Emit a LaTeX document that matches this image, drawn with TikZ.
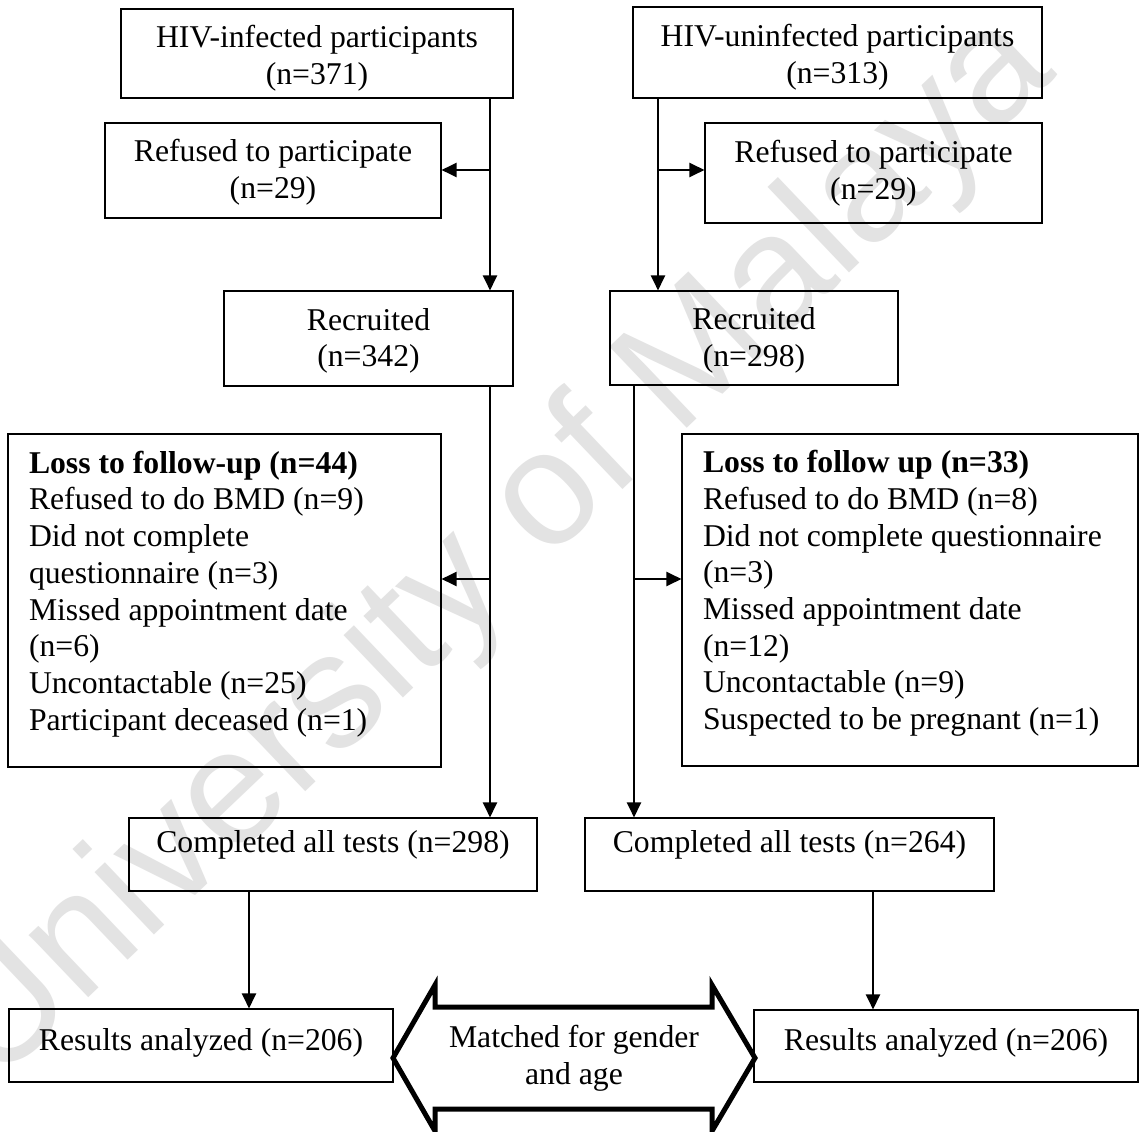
\documentclass[tikz,border=0pt]{standalone}
\usepackage{fontspec}
\setmainfont{Liberation Serif}
\newfontfamily\wmfont{Liberation Sans}
\usetikzlibrary{arrows.meta}
\begin{document}
\begin{tikzpicture}[x=1pt,y=-1pt,
  every node/.style={font=\fontsize{31.7}{36.7}\selectfont},
  box/.style={draw=black, line width=1.1pt, inner sep=0pt, align=center},
  lossbox/.style={draw=black, line width=1.1pt, inner ysep=0pt, inner xsep=21pt, align=flush left},
  conn/.style={line width=2.2pt, -{Triangle[length=15pt,width=14pt]}},
  bigarrow/.style={line width=5pt, line join=miter}]
\useasboundingbox (0,0) rectangle (1139,1131);
\fill[white] (0,0) rectangle (1139,1131);
% watermark
\node[rotate=43.6, text=black!11, inner sep=0pt, font=\wmfont\fontsize{163}{185}\selectfont] (wm) at (498,550) {University of Malaya};
% left column
\node[box, minimum width=392pt, minimum height=89pt] (inf) at (317,53.5) {\rule{0pt}{32pt}HIV-infected participants\\(n=371)};
\node[box, minimum width=336pt, minimum height=95pt] (refL) at (273,170.5) {\rule{0pt}{26pt}Refused to participate\\(n=29)};
\node[box, minimum width=289pt, minimum height=95pt] (recL) at (368.5,338.5) {\rule{0pt}{27pt}Recruited\\(n=342)};
\node[lossbox, text width=391pt, minimum height=333pt] (lossL) at (224.5,600.5) {\textbf{Loss to follow-up (n=44)}\\Refused to do BMD (n=9)\\Did not complete\\questionnaire (n=3)\\Missed appointment date\\(n=6)\\Uncontactable (n=25)\\Participant deceased (n=1)\rule[-20pt]{0pt}{20pt}};
\node[box, minimum width=408pt, text height=34pt, text depth=39pt] (compL) at (333,854.5) {Completed all tests (n=298)};
\node[box, minimum width=384pt, text height=41pt, text depth=32pt] (resL) at (201,1045.5) {Results analyzed (n=206)};
% right column
\node[box, minimum width=409pt, minimum height=91pt] (uninf) at (837.5,52.5) {\rule{0pt}{32pt}HIV-uninfected participants\\(n=313)};
\node[box, minimum width=337pt, minimum height=100pt] (refR) at (873.5,173) {Refused to participate\\(n=29)};
\node[box, minimum width=288pt, minimum height=94pt] (recR) at (754,338) {\rule{0pt}{27pt}Recruited\\(n=298)};
\node[lossbox, text width=414pt, minimum height=332pt] (lossR) at (910,600) {\textbf{Loss to follow up (n=33)}\\Refused to do BMD (n=8)\\Did not complete questionnaire\\(n=3)\\Missed appointment date\\(n=12)\\Uncontactable (n=9)\\Suspected to be pregnant (n=1)\rule[-20pt]{0pt}{20pt}};
\node[box, minimum width=409pt, text height=34pt, text depth=39pt] (compR) at (789.5,854.5) {Completed all tests (n=264)};
\node[box, minimum width=384pt, text height=40pt, text depth=32pt] (resR) at (946,1046) {Results analyzed (n=206)};
% matched double arrow
\node[inner sep=0pt, align=center] (match) at (574,1058) {Matched for gender\\and age};
\draw[bigarrow] (match.center) ++(-181,0) -- ++(42,-73) -- ++(0,22) -- ++(277,0) -- ++(0,-22) -- ++(43,73) -- ++(-43,73) -- ++(0,-22) -- ++(-277,0) -- ++(0,22) -- cycle;
% junctions
\coordinate (jL) at (490,170);
\coordinate (jR) at (658,170);
\coordinate (kL) at (490,579);
\coordinate (kR) at (634,579);
\coordinate (mL) at (249,950);
\coordinate (mR) at (873,950);
% connectors
\draw[conn] (jL |- inf.south) -- (jL |- recL.north);
\draw[conn] (jL) -- (jL -| refL.east);
\draw[conn] (kL |- recL.south) -- (kL |- compL.north);
\draw[conn] (kL) -- (kL -| lossL.east);
\draw[conn] (jR |- uninf.south) -- (jR |- recR.north);
\draw[conn] (jR) -- (jR -| refR.west);
\draw[conn] (kR |- recR.south) -- (kR |- compR.north);
\draw[conn] (kR) -- (kR -| lossR.west);
\draw[conn] (mL |- compL.south) -- (mL |- resL.north);
\draw[conn] (mR |- compR.south) -- (mR |- resR.north);
\end{tikzpicture}
\end{document}
